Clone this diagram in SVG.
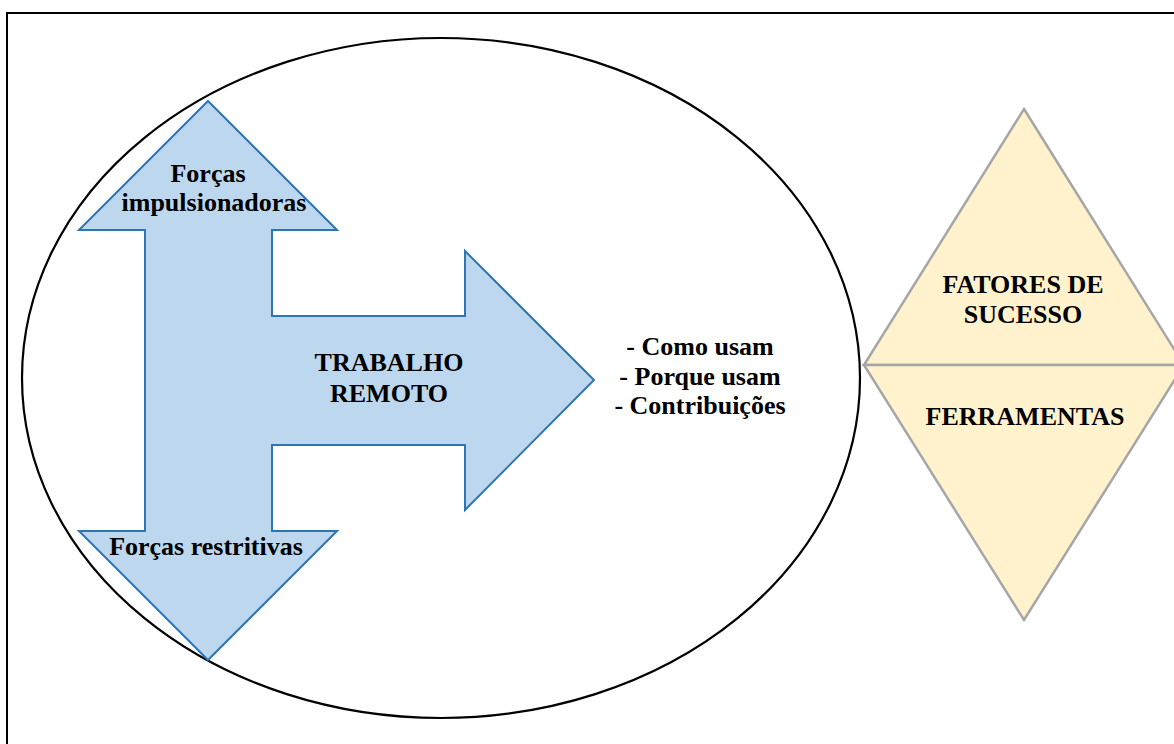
<svg xmlns="http://www.w3.org/2000/svg" width="1174" height="744" viewBox="0 0 1174 744">
<style>
.t{font-family:"Liberation Serif","Times New Roman",serif;font-weight:bold;font-size:26px;fill:#000;text-anchor:middle}
.blue{fill:#BDD7EE;stroke:#2E75B6;stroke-width:2;stroke-linejoin:miter}
.gold{fill:#FFF2CC;stroke:#A6A6A6;stroke-width:2.5;stroke-linejoin:miter}
</style>
<rect x="0" y="0" width="1174" height="744" fill="#fff"/>
<g id="frame">
<rect x="7" y="13" width="1200" height="760" fill="none" stroke="#000" stroke-width="2"/>
</g>
<g id="ellipse">
<ellipse cx="441" cy="378" rx="419" ry="340" fill="none" stroke="#000" stroke-width="2.2"/>
</g>
<g id="forces-arrow">
<path class="blue" d="M208,101 L337,230 L272,230 L272,316 L465,316 L465,251 L594,380 L465,510 L465,445 L272,445 L272,531 L337,531 L208,660 L79,531 L145,531 L145,230 L79,230 Z"/>
<text class="t" x="208" y="182">Forças</text>
<text class="t" x="214" y="211">impulsionadoras</text>
<text class="t" x="206" y="555">Forças restritivas</text>
<text class="t" x="389" y="371">TRABALHO</text>
<text class="t" x="389" y="402">REMOTO</text>
</g>
<g id="list">
<text class="t" x="700" y="355">- Como usam</text>
<text class="t" x="700" y="385">- Porque usam</text>
<text class="t" x="700" y="414">- Contribuições</text>
</g>
<g id="fatores">
<path class="gold" d="M1024,109 L1184,365 L864,365 Z"/>
<text class="t" x="1023" y="293">FATORES DE</text>
<text class="t" x="1023" y="323">SUCESSO</text>
</g>
<g id="ferramentas">
<path class="gold" d="M864,365 L1184,365 L1024,620 Z"/>
<text class="t" x="1025" y="425">FERRAMENTAS</text>
</g>
</svg>
